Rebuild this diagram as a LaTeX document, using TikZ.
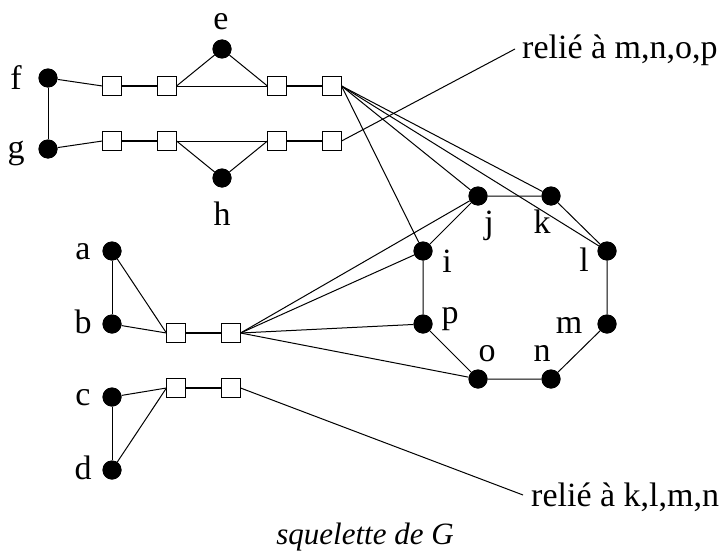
\documentclass[tikz,border=0pt]{standalone}
\usepackage{fontspec}
\setmainfont{Liberation Serif}
\begin{document}
\begin{tikzpicture}[x=1pt,y=-1pt,
  dot/.style={circle,fill=black,inner sep=0pt,minimum size=19pt},
  sq/.style={rectangle,draw=black,fill=white,line width=1.1pt,inner sep=0pt,minimum size=18pt},
  lbl/.style={font=\fontsize{34}{34}\selectfont,inner sep=0pt},
  edge/.style={line width=1pt},
  thick edge/.style={line width=2pt}]
\useasboundingbox (0,0) rectangle (722,551);
% dots
\node[dot] (f) at (48,78) {};
\node[dot] (g) at (48,149) {};
\node[dot] (e) at (222,49) {};
\node[dot] (h) at (222,178) {};
\node[dot] (a) at (112,251) {};
\node[dot] (b) at (112,324) {};
\node[dot] (c) at (112,397) {};
\node[dot] (d) at (112,470) {};
\node[dot] (i) at (423,251) {};
\node[dot] (j) at (478,196) {};
\node[dot] (k) at (551,196) {};
\node[dot] (l) at (607,251) {};
\node[dot] (m) at (607,324) {};
\node[dot] (n) at (551,379) {};
\node[dot] (o) at (478,379) {};
\node[dot] (p) at (423,324) {};
% boxes
\node[sq] (t1) at (112,86) {};
\node[sq] (t2) at (167,86) {};
\node[sq] (t3) at (277,86) {};
\node[sq] (t4) at (332,86) {};
\node[sq] (u1) at (112,141) {};
\node[sq] (u2) at (167,141) {};
\node[sq] (u3) at (277,141) {};
\node[sq] (u4) at (332,141) {};
\node[sq] (v1) at (176,333) {};
\node[sq] (v2) at (231,333) {};
\node[sq] (w1) at (176,388) {};
\node[sq] (w2) at (231,388) {};
% labels
\node[lbl] at (221,22) {e};
\node[lbl] at (16,78) {f};
\node[lbl] at (16,153) {g};
\node[lbl] at (222,214) {h};
\node[lbl] at (83,252) {a};
\node[lbl] at (83,322) {b};
\node[lbl] at (83,398) {c};
\node[lbl] at (83,468) {d};
\node[lbl] at (447,261) {i};
\node[lbl] at (489,226) {j};
\node[lbl] at (542,222) {k};
\node[lbl] at (584,260) {l};
\node[lbl] at (450,319) {p};
\node[lbl] at (569,325) {m};
\node[lbl] at (487,354) {o};
\node[lbl] at (542,353) {n};
\node[lbl,anchor=west] (r1) at (522,50) {relié à m,n,o,p};
\node[lbl,anchor=west] (r2) at (531,497) {relié à k,l,m,n};
\node[font=\fontsize{31}{31}\selectfont\itshape,inner sep=0pt,anchor=base] (cap) at (365,544) {squelette de G};
\coordinate (r1e) at (515,49);
\coordinate (r2e) at (523,495);
% edges
\draw[edge] (f) -- (g);
\draw[edge] (f) -- (t1.west);
\draw[edge] (g) -- (u1.west);
\draw[thick edge] (t1) -- (t2);
\draw[thick edge] (t3) -- (t4);
\draw[thick edge] (u1) -- (u2);
\draw[thick edge] (u3) -- (u4);
\draw[edge] (t2.east) -- (t3.west);
\draw[edge] (u2.east) -- (u3.west);
\draw[edge] (t2.east) -- (e);
\draw[edge] (e) -- (t3.west);
\draw[edge] (u2.east) -- (h);
\draw[edge] (h) -- (u3.west);
\draw[edge] (t4.east) -- (i);
\draw[edge] (t4.east) -- (j);
\draw[edge] (t4.east) -- (k);
\draw[edge] (t4.east) -- (l);
\draw[edge] (u4.east) -- (r1e);
\draw[edge] (a) -- (b);
\draw[edge] (a) -- (v1.west);
\draw[edge] (b) -- (v1.west);
\draw[thick edge] (v1) -- (v2);
\draw[edge] (v2.east) -- (j);
\draw[edge] (v2.east) -- (i);
\draw[edge] (v2.east) -- (p);
\draw[edge] (v2.east) -- (o);
\draw[edge] (c) -- (d);
\draw[edge] (c) -- (w1.west);
\draw[edge] (d) -- (w1.west);
\draw[thick edge] (w1) -- (w2);
\draw[edge] (w2.east) -- (r2e);
\draw[edge] (i) -- (j) -- (k) -- (l) -- (m) -- (n) -- (o) -- (p) -- (i);
% redraw nodes on top
\foreach \q in {f,g,e,h,a,b,c,d,i,j,k,l,m,n,o,p}{\fill (\q) circle (9.5pt);}
\foreach \q in {t1,t2,t3,t4,u1,u2,u3,u4,v1,v2,w1,w2}{\draw[line width=1.1pt,fill=white] (\q.south west) rectangle (\q.north east);}
\end{tikzpicture}
\end{document}
